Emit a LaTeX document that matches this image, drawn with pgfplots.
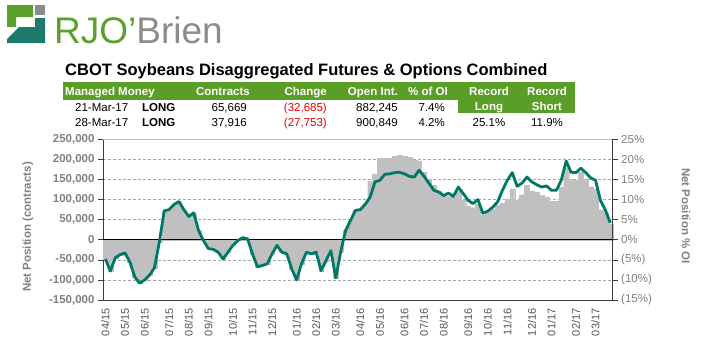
\documentclass[border=0pt]{standalone}
\usepackage{pgfplots}
\pgfplotsset{compat=1.18}
\usepackage{pgfplotstable}
\usepackage{fontspec}
\setmainfont{Liberation Sans}

\definecolor{rjgreen}{RGB}{92,160,44}
\definecolor{rjgray}{RGB}{140,140,140}
\definecolor{rjteal}{RGB}{30,122,108}
\definecolor{hdrgreen}{RGB}{90,158,40}
\definecolor{lineteal}{RGB}{0,120,102}
\definecolor{areagray}{RGB}{192,192,192}
\definecolor{labgray}{RGB}{128,128,128}
\definecolor{xlabgray}{RGB}{85,85,85}
\definecolor{axdark}{RGB}{60,60,60}
\definecolor{negred}{RGB}{230,0,0}

% i = week index (Tue, from 7-Apr-15), p = net position % of OI, c = net position (contracts)
\pgfplotstableread{
i p c
0 -4.8 -48000
1 -7.8 -78000
2 -4.5 -45000
3 -3.7 -37000
4 -3.3 -33000
5 -5.6 -56000
6 -9.3 -93000
7 -10.8 -108000
8 -10.0 -100000
9 -8.8 -88000
10 -7.0 -70000
11 -0.5 -5000
12 7.2 72000
13 7.5 75000
14 8.8 88000
15 9.5 95000
16 7.5 75000
17 5.8 58000
18 6.7 67000
19 2.3 23000
20 -0.2 -2000
21 -2.2 -22000
22 -2.4 -24000
23 -3.1 -31000
24 -4.8 -48000
25 -3.1 -31000
26 -1.4 -14000
27 -0.2 -2000
28 0.5 5000
29 0.2 2000
30 -3.5 -35000
31 -6.7 -67000
32 -6.4 -64000
33 -6.0 -60000
34 -3.5 -35000
35 -1.4 -14000
36 -3.1 -31000
37 -3.5 -35000
38 -7.2 -72000
39 -10.0 -100000
40 -6.0 -60000
41 -3.1 -31000
42 -3.5 -35000
43 -3.1 -31000
44 -7.7 -77000
45 -5.2 -52000
46 -2.7 -27000
47 -9.5 -95000
48 -3.0 -30000
49 2.3 23000
50 4.8 48000
51 7.3 73000
52 7.5 75000
53 8.8 90000
54 10.6 145000
55 14.4 164000
56 14.8 202000
57 16.3 202000
58 16.4 204000
59 16.7 208000
60 16.8 210000
61 16.4 208000
62 15.8 205000
63 15.6 198000
64 17.3 195000
65 15.8 168000
66 14.1 150000
67 12.3 135000
68 11.9 120000
69 11.0 110000
70 11.6 108000
71 10.8 106000
72 13.1 120000
73 11.5 98000
74 9.8 83000
75 9.0 80000
76 10.0 88000
77 6.6 62000
78 7.1 68000
79 8.1 76000
80 9.4 85000
81 12.3 90000
82 14.8 102000
83 16.7 125000
84 13.3 98000
85 14.1 112000
86 15.6 135000
87 14.4 121000
88 13.7 119000
89 13.1 110000
90 13.4 106000
91 12.3 95000
92 12.3 95000
93 14.8 130000
94 19.6 178000
95 16.8 150000
96 16.7 148000
97 17.8 168000
98 16.7 152000
99 15.4 132000
100 14.8 125000
101 9.8 75000
102 7.4 65669
103 4.2 37916
}\cotdata

\begin{document}
\begin{tikzpicture}
\path[use as bounding box, fill=white] (0pt,0pt) rectangle (703pt,-341pt);

\begin{scope}[x=1pt,y=-1pt]
  % logo
  \fill[rjgreen] (7,5) -- (33,5) -- (33,17) -- (16,17) -- (16,27) -- (7,27) -- cycle;
  \fill[rjgray] (35,5) rectangle (45,15);
  \fill[rjteal] (35,18) -- (45,18) -- (45,43) -- (7,43) -- (7,39) -- (19,27) -- (35,27) -- cycle;
  \node[anchor=base west, inner sep=0, font=\fontsize{37}{37}\selectfont] at (54,43)
    {\textcolor{rjgreen}{RJO’}\textcolor{rjgray}{Brien}};
  % title
  \node[anchor=base west, inner sep=0, font=\bfseries\fontsize{16.5}{16.5}\selectfont] at (65,75)
    {CBOT Soybeans Disaggregated Futures \& Options Combined};
  % header
  \fill[hdrgreen] (63,82) rectangle (575,100);
  \fill[hdrgreen] (458,100) rectangle (575,113);
  \begin{scope}[every node/.style={inner sep=0, font=\bfseries\fontsize{11.5}{12}\selectfont, text=white}]
    \node[anchor=base west] at (65,95.5) {Managed Money};
    \node[anchor=base east] at (250,95.5) {Contracts};
    \node[anchor=base east] at (327,95.5) {Change};
    \node[anchor=base east] at (398,95.5) {Open Int.};
    \node[anchor=base east] at (448,95.5) {\% of OI};
    \node[anchor=base] at (489,95) {Record};
    \node[anchor=base] at (547,95) {Record};
    \node[anchor=base] at (489,110) {Long};
    \node[anchor=base] at (547,110) {Short};
  \end{scope}
  \begin{scope}[every node/.style={inner sep=0, font=\fontsize{11.5}{12}\selectfont}]
    \node[anchor=base west] at (75,111) {21-Mar-17};
    \node[anchor=base west, font=\bfseries\fontsize{11.5}{12}\selectfont] at (142,111) {LONG};
    \node[anchor=base east] at (247,111) {65,669};
    \node[anchor=base east, text=negred] at (327,111) {(32,685)};
    \node[anchor=base east] at (398,111) {882,245};
    \node[anchor=base east] at (445,111) {7.4\%};
    \node[anchor=base west] at (75,126) {28-Mar-17};
    \node[anchor=base west, font=\bfseries\fontsize{11.5}{12}\selectfont] at (142,126) {LONG};
    \node[anchor=base east] at (247,126) {37,916};
    \node[anchor=base east, text=negred] at (327,126) {(27,753)};
    \node[anchor=base east] at (398,126) {900,849};
    \node[anchor=base east] at (445,126) {4.2\%};
    \node[anchor=base] at (489,126) {25.1\%};
    \node[anchor=base] at (547,126) {11.9\%};
  \end{scope}
  % axis titles
  \node[rotate=90, inner sep=0, text=labgray, font=\bfseries\fontsize{11.5}{12}\selectfont] at (28,227) {Net Position (contracts)};
  \node[rotate=-90, inner sep=0, text=labgray, font=\bfseries\fontsize{11.5}{12}\selectfont] at (686,216) {Net Position \% OI};
\end{scope}

\begin{axis}[
  at={(103pt,-300pt)}, anchor=south west,
  scale only axis, width=509.7pt, height=160.7pt,
  xmin=-0.5, xmax=103.5, ymin=-150000, ymax=250000,
  axis y line*=left, axis x line*=bottom,
  axis line style={axdark, line width=0.8pt},
  scaled y ticks=false,
  ytick={-150000,-100000,-50000,0,50000,100000,150000,200000,250000},
  yticklabels={{-150,000},{-100,000},{-50,000},0,{50,000},{100,000},{150,000},{200,000},{250,000}},
  yticklabel style={font=\bfseries\fontsize{11.5}{12}\selectfont, text=labgray},
  ytick style={axdark, line width=0.6pt},
  tick align=outside, major tick length=5pt,
  ymajorgrids, grid style={gray!70, dash pattern=on 3pt off 2pt, line width=0.5pt},
  xtick={0,4,8,13,17,21,26,30,34,39,43,47,52,56,61,65,69,74,78,82,87,91,96,100},
  xticklabels={04/15,05/15,06/15,07/15,08/15,09/15,10/15,11/15,12/15,01/16,02/16,03/16,04/16,05/16,06/16,07/16,08/16,09/16,10/16,11/16,12/16,01/17,02/17,03/17},
  xticklabel style={rotate=90, anchor=east, font=\fontsize{11}{11}\selectfont, text=xlabgray},
  xtick style={draw=none},
  clip=false,
]
\addplot[ybar, bar width=1, bar shift=0pt, fill=areagray, draw=areagray, line width=0.2pt] table[x=i, y=c] {\cotdata};
\draw[black, line width=0.9pt] (axis cs:-0.5,0) -- (axis cs:103.5,0);
\draw[gray!50, line width=0.6pt] (axis cs:-0.5,250000) -- (axis cs:103.5,250000);
\end{axis}

\begin{axis}[
  at={(103pt,-300pt)}, anchor=south west,
  scale only axis, width=509.7pt, height=160.7pt,
  xmin=-0.5, xmax=103.5, ymin=-15, ymax=25,
  axis y line*=right, axis x line=none,
  axis line style={axdark, line width=0.8pt},
  ytick={-15,-10,-5,0,5,10,15,20,25},
  yticklabels={(15\%),(10\%),(5\%),0\%,5\%,10\%,15\%,20\%,25\%},
  yticklabel style={font=\fontsize{11.5}{12}\selectfont, text=labgray},
  ytick style={axdark, line width=0.6pt},
  tick align=outside, major tick length=5pt,
  xtick=\empty,
]
\addplot[lineteal, line width=2.8pt, line join=round, mark=none] table[x=i, y=p] {\cotdata};
\end{axis}
\end{tikzpicture}
\end{document}
